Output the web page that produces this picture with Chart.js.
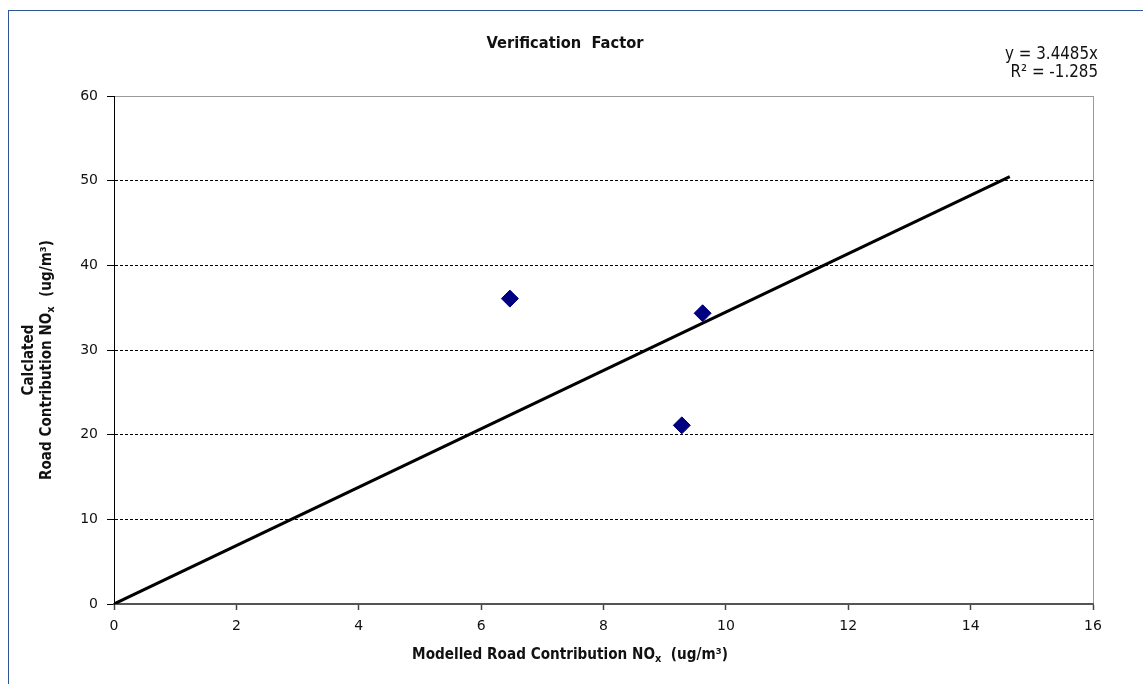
<!DOCTYPE html>
<html><head><meta charset="utf-8">
<script src="https://cdn.jsdelivr.net/npm/chart.js@4.4.1/dist/chart.umd.min.js"></script>
<style>
html,body{margin:0;padding:0;background:#fff;overflow:hidden;width:1143px;height:684px;}
canvas{position:absolute;left:0;top:0;}
#frame{position:absolute;left:8px;top:10px;width:1300px;height:900px;border:1px solid #2f5597;box-sizing:border-box;pointer-events:none;}
</style></head><body>
<canvas id="c" width="1143" height="684"></canvas>
<div id="frame"></div>
<script>
// ---- data ----
const modelledNOx   = [6.47, 9.62, 9.28];
const calculatedNOx = [36.07, 34.34, 21.10];
const trendSlope = 3.4485;
const trendXRange = [0, 14.64];
const xTickValues = [0, 2, 4, 6, 8, 10, 12, 14, 16];
const yTickValues = [0, 10, 20, 30, 40, 50, 60];
const chartTitle = 'Verification  Factor';
const equationLines = ['y = 3.4485x', 'R\u00B2 = -1.285'];
const xTitle = [{t:'Modelled Road Contribution NO'},{t:'x',sub:true},{t:'  (ug/m\u00B3)'}];
const yTitle1 = [{t:'Calclated'}];
const yTitle2 = [{t:'Road Contribution NO'},{t:'x',sub:true},{t:'  (ug/m\u00B3)'}];

const FONT = '"DejaVu Sans", Verdana, sans-serif';
const SQUEEZE = 0.88; // horizontal compression to mimic Tahoma

function segFont(size, weight, sub){ return weight+' '+(sub?size*0.72:size)+'px '+FONT; }
function richWidth(ctx, segs, size, weight){
  let w=0; for(const s of segs){ ctx.font=segFont(size,weight,s.sub); w+=ctx.measureText(s.t).width; } return w;
}
function fitSize(ctx, segs, weight, target){
  const w = richWidth(ctx, segs, 20, weight); return 20*target/(w*SQUEEZE);
}
function drawRich(ctx, segs, cx, cy, size, weight, align){
  const w = richWidth(ctx, segs, size, weight)*SQUEEZE;
  let x = align==='right' ? cx - w : (align==='left' ? cx : cx - w/2);
  ctx.save();
  ctx.translate(x, cy); ctx.scale(SQUEEZE, 1);
  ctx.textBaseline='middle'; ctx.textAlign='left';
  let lx = 0;
  for(const s of segs){
    ctx.font=segFont(size,weight,s.sub);
    ctx.fillText(s.t, lx, (s.sub? size*0.28 : 0));
    lx += ctx.measureText(s.t).width;
  }
  ctx.restore();
}

const textPlugin = {
  id:'texts',
  afterDraw(chart){
    const ctx = chart.ctx;
    ctx.save();
    ctx.fillStyle = '#111';
    const tSegs=[{t:chartTitle}];
    const ts = fitSize(ctx,tSegs,'bold',157);
    drawRich(ctx,tSegs,565,44,ts,'bold','center');
    const xs = fitSize(ctx,xTitle,'bold',316);
    drawRich(ctx,xTitle,570,655,xs,'bold','center');
    const ys = fitSize(ctx,yTitle2,'bold',240);
    ctx.save();
    ctx.translate(29,360); ctx.rotate(-Math.PI/2);
    drawRich(ctx,yTitle1,0,0,ys,'bold','center');
    drawRich(ctx,yTitle2,0,18,ys,'bold','center');
    ctx.restore();
    const es = fitSize(ctx,[{t:equationLines[0]}],'normal',93);
    drawRich(ctx,[{t:equationLines[0]}],1098,55,es,'normal','right');
    drawRich(ctx,[{t:equationLines[1]}],1098,73,es,'normal','right');
    ctx.restore();
  }
};

const scatterPts = modelledNOx.map((x,i)=>({x, y:calculatedNOx[i]}));
const trendPts = trendXRange.map(x=>({x, y:trendSlope*x}));

new Chart(document.getElementById('c'), {
  type:'scatter',
  data:{ datasets:[
    { label:'Calculated', data:scatterPts, pointStyle:'rectRot', pointRadius:8.5, pointHoverRadius:8.5,
      backgroundColor:'#000080', borderColor:'#000080', borderWidth:1 },
    { label:'Trend', type:'line', data:trendPts, borderColor:'#000', borderWidth:3, pointRadius:0,
      tension:0, fill:false }
  ]},
  options:{
    responsive:false, animation:false, devicePixelRatio:1,
    layout:{ padding:{ left:0, top:96, right:50, bottom:0 } },
    plugins:{ legend:{display:false}, title:{display:false}, tooltip:{enabled:false} },
    events:[],
    scales:{
      x:{ type:'linear', min:0, max:16,
        afterFit: s => { s.height = 80; },
        afterBuildTicks: s => { s.ticks = xTickValues.map(v=>({value:v})); },
        ticks:{ font:{family:FONT,size:14}, color:'#111', padding:8, maxRotation:0 },
        grid:{ drawOnChartArea:true,
          color: c => (c.tick && c.tick.value===16) ? '#9a9a9a' : 'rgba(0,0,0,0)',
          lineWidth:1, tickLength:6, tickColor:'#444', tickWidth:1.5 },
        border:{ display:true, color:'#555', width:2 }
      },
      y:{ type:'linear', min:0, max:60,
        afterFit: s => { s.width = 114; },
        afterBuildTicks: s => { s.ticks = yTickValues.map(v=>({value:v})); },
        ticks:{ font:{family:FONT,size:14}, color:'#111', padding:9 },
        grid:{
          color: c => { if(!c.tick) return '#000'; if(c.tick.value===0) return 'rgba(0,0,0,0)'; if(c.tick.value===60) return '#9a9a9a'; return '#000'; },
          lineWidth:1, tickLength:7, tickColor:'#000', tickWidth:1 },
        border:{ display:true, color:'#000', width:1,
          dash: c => (c.tick && c.tick.value===60) ? [] : [3,2] }
      }
    }
  },
  plugins:[textPlugin]
});
</script>
</body></html>
